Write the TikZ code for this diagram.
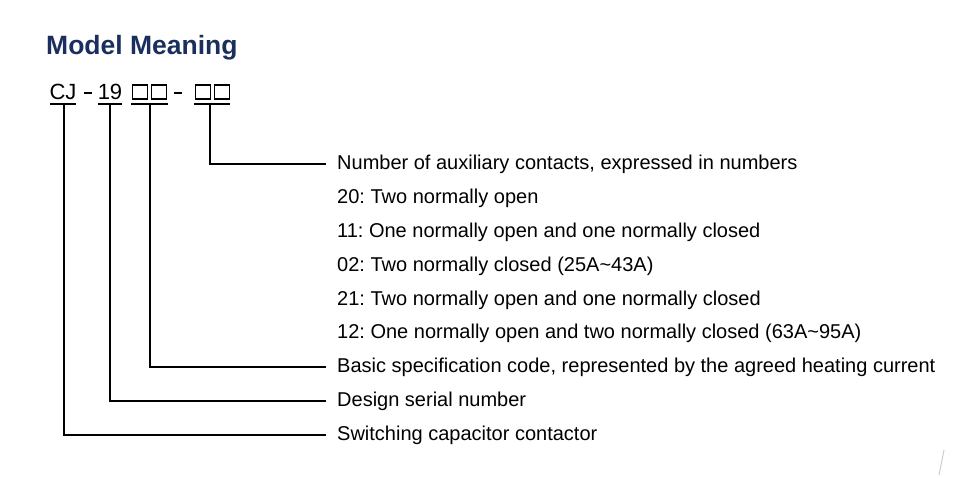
\documentclass[tikz,border=0pt]{standalone}
\usepackage{fontspec}
\setmainfont{Liberation Sans}
\definecolor{navy}{HTML}{1B2F5E}
\begin{document}
\frenchspacing
\begin{tikzpicture}[x=1pt,y=-1pt,
 lab/.style={anchor=west,inner sep=0pt,font=\fontsize{20}{22}\selectfont\frenchspacing},
 code/.style={inner sep=0pt,font=\fontsize{22}{24}\selectfont},
 bx/.style={draw,line width=1.2pt,minimum width=15pt,minimum height=14pt,inner sep=0pt},
 dsh/.style={fill,minimum width=8pt,minimum height=2pt,inner sep=0pt},
 ln/.style={line width=1.3pt}]
\useasboundingbox (0,0) rectangle (976,478);
\node[anchor=west,inner sep=0pt,text=navy,font=\fontsize{26.5}{28}\selectfont\bfseries] (title) at (46,48) {Model Meaning};
\node[code] (cj) at (63,92) {CJ};
\node[dsh] (d1) at (88,93) {};
\node[code] (n19) at (110,92) {19};
\node[bx] (b1a) at (140,92) {};
\node[bx] (b1b) at (159,92) {};
\node[dsh] (d2) at (178,93) {};
\node[bx] (b2a) at (203,92) {};
\node[bx] (b2b) at (222,92) {};
\draw[ln] (50,104) -- (76,104) (98,104) -- (122,104) (131,104) -- (168,104) (194,104) -- (230,104);
\foreach \i/\t [count=\k] in {164/{Number of auxiliary contacts, expressed in numbers},198/{20: Two normally open},232/{11: One normally open and one normally closed},266/{02: Two normally closed (25A\textasciitilde43A)},300/{21: Two normally open and one normally closed},333/{12: One normally open and two normally closed (63A\textasciitilde95A)},367/{Basic specification code, represented by the agreed heating current},401/{Design serial number},435/{Switching capacitor contactor}}
  \node[lab] (t\k) at (337,\i) {\t};
\coordinate (e1) at (326,164); \coordinate (e7) at (326,367);
\coordinate (e8) at (326,401); \coordinate (e9) at (326,435);
\draw[ln] (210,104) |- (e1);
\draw[ln] (150,104) |- (e7);
\draw[ln] (110,104) |- (e8);
\draw[ln] (64,104) |- (e9);
\draw[gray!40,line width=1pt] (944,450) -- (939,475);
\end{tikzpicture}
\end{document}
